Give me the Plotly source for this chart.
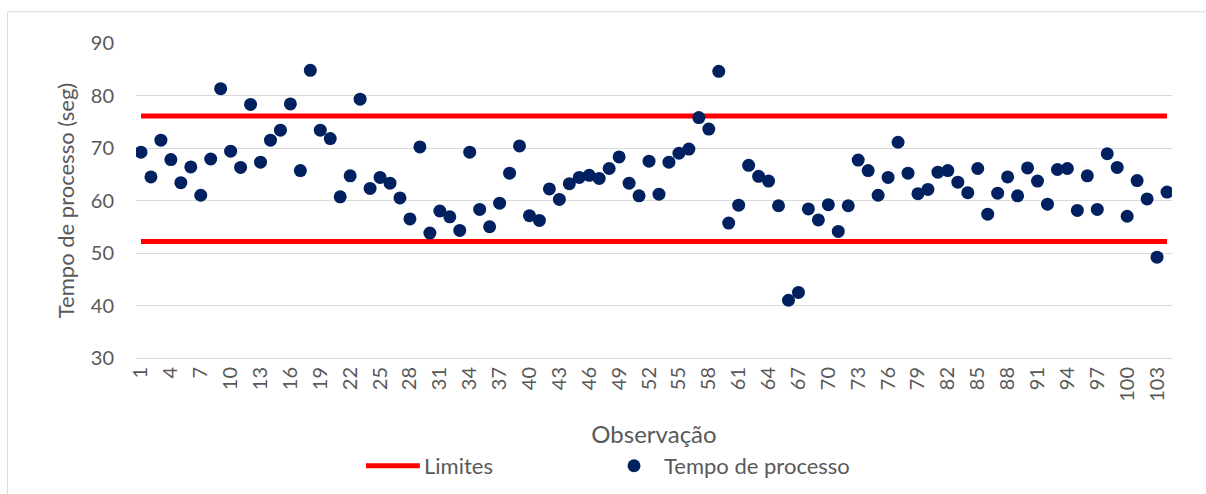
import plotly.graph_objects as go

# Observation numbers and measured process times (seconds)
observacao = list(range(1, 105))
tempo_processo = [
    69.2, 64.5, 71.5, 67.8, 63.4, 66.4, 61.0, 67.9, 81.3, 69.4,
    66.3, 78.3, 67.3, 71.5, 73.4, 78.4, 65.7, 84.8, 73.4, 71.8,
    60.7, 64.7, 79.3, 62.3, 64.4, 63.3, 60.5, 56.5, 70.2, 53.8,
    58.0, 56.9, 54.3, 69.2, 58.3, 55.0, 59.5, 65.2, 70.4, 57.1,
    56.2, 62.2, 60.2, 63.2, 64.4, 64.8, 64.2, 66.1, 68.3, 63.3,
    60.9, 67.5, 61.2, 67.3, 69.0, 69.8, 75.8, 73.6, 84.6, 55.7,
    59.1, 66.7, 64.6, 63.7, 59.0, 41.0, 42.5, 58.4, 56.3, 59.2,
    54.1, 59.0, 67.7, 65.7, 61.0, 64.4, 71.1, 65.2, 61.3, 62.1,
    65.4, 65.7, 63.5, 61.5, 66.1, 57.4, 61.4, 64.5, 60.9, 66.2,
    63.7, 59.3, 65.9, 66.1, 58.1, 64.7, 58.3, 68.9, 66.3, 57.0,
    63.8, 60.3, 49.2, 61.6,
]

# Control limits
limite_superior = 76.1
limite_inferior = 52.2

# Category tick labels (every third observation)
x_ticks = observacao[::3]
y_ticks = [30, 40, 50, 60, 70, 80, 90]

FONT = "Lato"
TEXT = "#595959"
GRID = "#d9d9d9"
RED = "#ff0000"
NAVY = "#002060"

# Legend row position (paper coordinates)
LEG_Y = -0.342

fig = go.Figure()

fig.add_trace(go.Scatter(
    x=[observacao[0], observacao[-1], None, observacao[0], observacao[-1]],
    y=[limite_superior, limite_superior, None, limite_inferior, limite_inferior],
    mode="lines",
    name="Limites",
    line=dict(color=RED, width=5),
    hoverinfo="skip",
    showlegend=False,
))

fig.add_trace(go.Scatter(
    x=observacao,
    y=tempo_processo,
    mode="markers",
    name="Tempo de processo",
    marker=dict(color=NAVY, size=13),
    showlegend=False,
))

shapes = [
    # chart area border
    dict(type="rect", xref="paper", yref="paper",
         x0=-0.124, x1=1.2, y0=-0.6, y1=1.099,
         line=dict(color=GRID, width=1),
         fillcolor="rgba(0,0,0,0)", layer="below"),
    # legend key: limits line
    dict(type="line", xref="paper", yref="paper",
         x0=0.222, x1=0.274, y0=LEG_Y, y1=LEG_Y,
         line=dict(color=RED, width=5)),
    # legend key: process time marker
    dict(type="circle", xref="paper", yref="paper",
         xsizemode="pixel", ysizemode="pixel",
         xanchor=0.4807, yanchor=LEG_Y,
         x0=-6.5, x1=6.5, y0=-6.5, y1=6.5,
         fillcolor=NAVY, line=dict(width=0)),
]

annotations = [
    dict(text="Limites", xref="paper", yref="paper",
         x=0.276, y=LEG_Y, xanchor="left", yanchor="middle",
         showarrow=False, font=dict(family=FONT, size=22, color=TEXT)),
    dict(text="Tempo de processo", xref="paper", yref="paper",
         x=0.508, y=LEG_Y, xanchor="left", yanchor="middle",
         showarrow=False, font=dict(family=FONT, size=22, color=TEXT)),
]

fig.update_layout(
    width=1206,
    height=494,
    margin=dict(l=136, r=34, t=43, b=136),
    paper_bgcolor="white",
    plot_bgcolor="white",
    font=dict(family=FONT, color=TEXT, size=18),
    showlegend=False,
    shapes=shapes,
    annotations=annotations,
)

fig.update_xaxes(
    range=[0.5, 104.5],
    tickmode="array",
    tickvals=x_ticks,
    ticktext=[str(v) for v in x_ticks],
    tickangle=-90,
    tickfont=dict(family=FONT, size=20, color=TEXT),
    showgrid=False,
    zeroline=False,
    showline=True,
    linecolor=GRID,
    linewidth=1,
    ticks="",
    automargin=False,
    title=dict(text="Observação", font=dict(family=FONT, size=24, color=TEXT), standoff=25),
)

fig.update_yaxes(
    range=[30, 90],
    tickmode="array",
    tickvals=y_ticks,
    tickfont=dict(family=FONT, size=20, color=TEXT),
    showgrid=True,
    gridcolor=GRID,
    gridwidth=1,
    zeroline=False,
    showline=False,
    ticks="",
    ticklabelstandoff=21,
    automargin=False,
    title=dict(text="Tempo de processo (seg)", font=dict(family=FONT, size=22, color=TEXT), standoff=10),
)

fig.write_html("out.html")
